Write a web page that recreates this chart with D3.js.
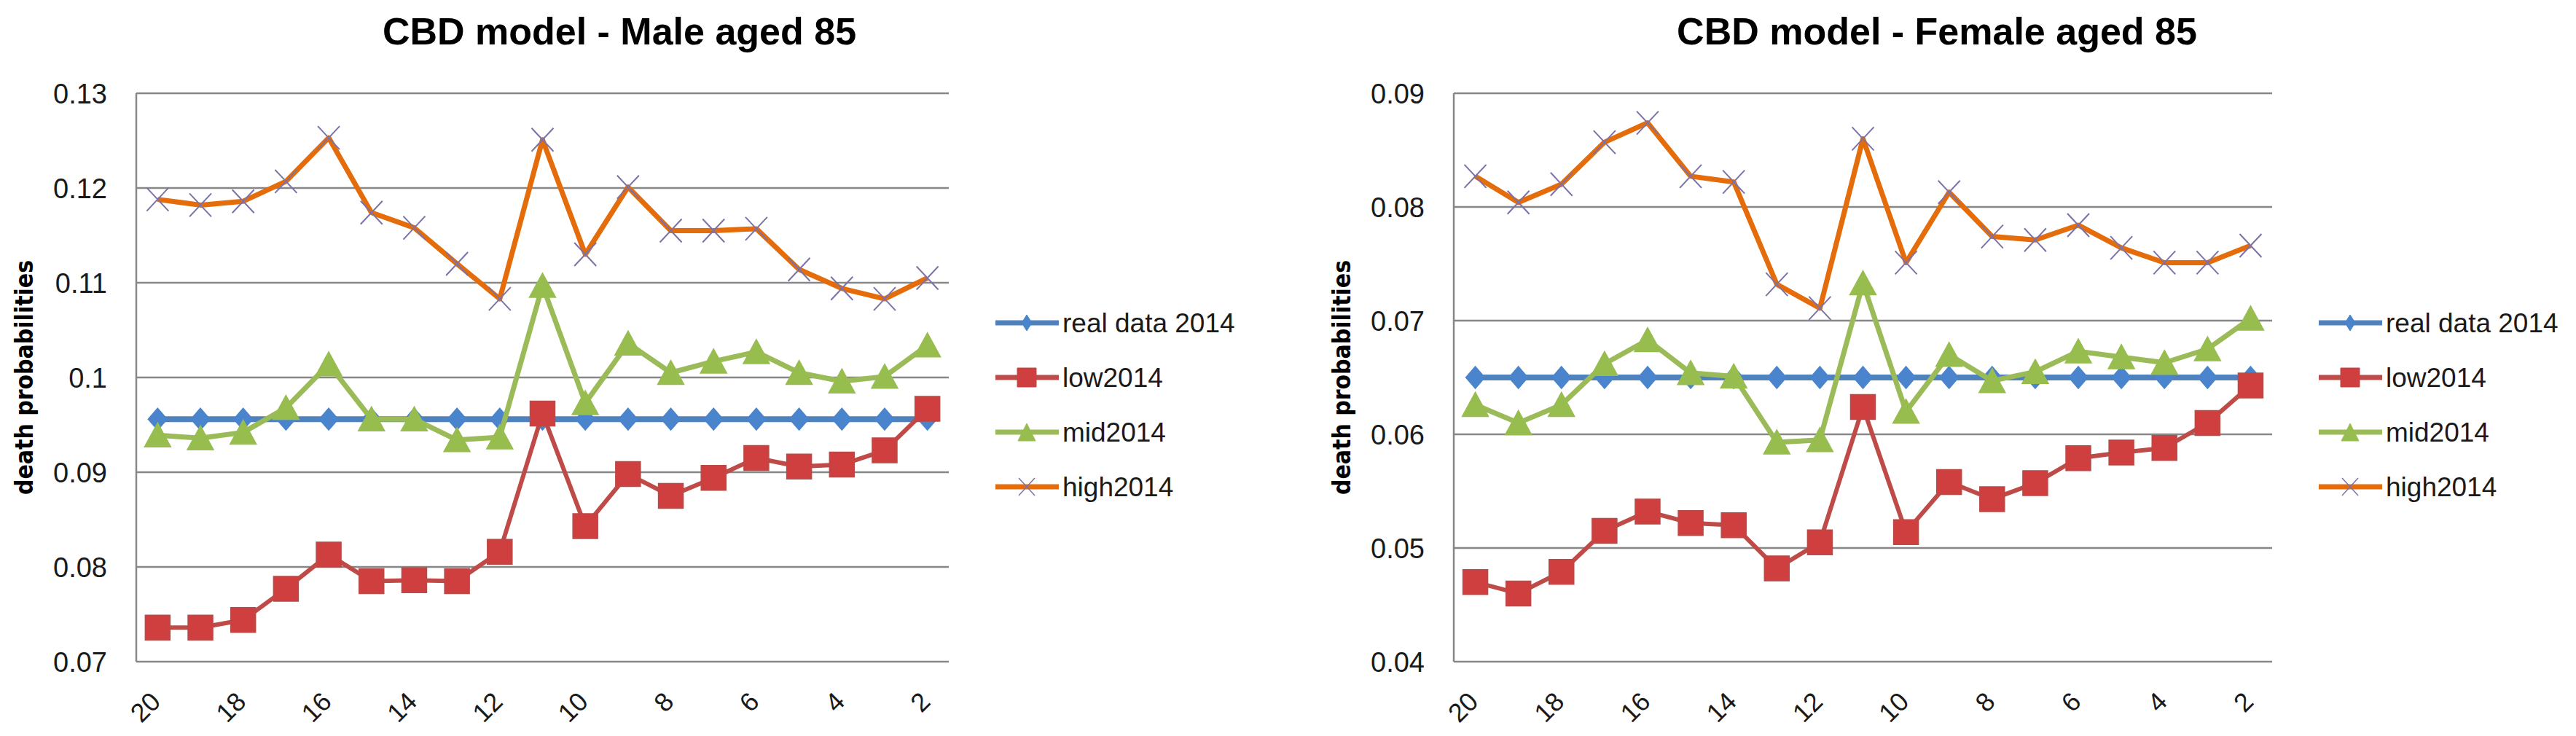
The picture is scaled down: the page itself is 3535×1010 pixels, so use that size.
<!DOCTYPE html>
<html>
<head>
<meta charset="utf-8">
<script src="https://cdn.jsdelivr.net/npm/d3@7"></script>
<style>
    body { margin: 0; background: #fff; }
    svg text { font-family: "Liberation Sans", Arial, sans-serif; fill: #1a1a1a; }
</style>
</head>
<body>
<div class="container"></div>
<script>
// forecast horizon (years before 2014)
const horizon = [20, 19, 18, 17, 16, 15, 14, 13, 12, 11, 10, 9, 8, 7, 6, 5, 4, 3, 2];
const seriesNames = ["real data 2014", "low2014", "mid2014", "high2014"];

const maleTicks = [0.07, 0.08, 0.09, 0.1, 0.11, 0.12, 0.13];
const maleReal = [0.0956, 0.0956, 0.0956, 0.0956, 0.0956, 0.0956, 0.0956, 0.0956, 0.0956, 0.0956,
    0.0956, 0.0956, 0.0956, 0.0956, 0.0956, 0.0956, 0.0956, 0.0956, 0.0956];
const maleLow = [0.0736, 0.0736, 0.0744, 0.0777, 0.0813, 0.0785, 0.0786, 0.0785, 0.0816, 0.0962,
    0.0843, 0.0898, 0.0875, 0.0894, 0.0915, 0.0906, 0.0908, 0.0923, 0.0967];
const maleMid = [0.0939, 0.0936, 0.0942, 0.0968, 0.1014, 0.0956, 0.0956, 0.0934, 0.0937, 0.1097,
    0.0973, 0.1036, 0.1005, 0.1017, 0.1027, 0.1005, 0.0996, 0.1001, 0.1034];
const maleHigh = [0.1188, 0.1182, 0.1186, 0.1207, 0.1253, 0.1174, 0.1158, 0.1120, 0.1083, 0.1251,
    0.1130, 0.1201, 0.1155, 0.1155, 0.1157, 0.1114, 0.1094, 0.1083, 0.1105];

const femaleTicks = [0.04, 0.05, 0.06, 0.07, 0.08, 0.09];
const femaleReal = [0.0650, 0.0650, 0.0650, 0.0650, 0.0650, 0.0650, 0.0650, 0.0650, 0.0650, 0.0650,
    0.0650, 0.0650, 0.0650, 0.0650, 0.0650, 0.0650, 0.0650, 0.0650, 0.0650];
const femaleLow = [0.0470, 0.0460, 0.0479, 0.0515, 0.0532, 0.0522, 0.0520, 0.0482, 0.0505, 0.0624,
    0.0514, 0.0558, 0.0543, 0.0557, 0.0579, 0.0584, 0.0588, 0.0610, 0.0643];
const femaleMid = [0.0626, 0.0610, 0.0626, 0.0662, 0.0683, 0.0654, 0.0651, 0.0593, 0.0595, 0.0733,
    0.0620, 0.0670, 0.0647, 0.0655, 0.0673, 0.0668, 0.0663, 0.0675, 0.0702];
const femaleHigh = [0.0827, 0.0804, 0.0820, 0.0857, 0.0874, 0.0827, 0.0822, 0.0732, 0.0711, 0.0860,
    0.0751, 0.0813, 0.0774, 0.0771, 0.0784, 0.0764, 0.0751, 0.0751, 0.0766];

let width = 3535,
    height = 1010;

let svg = d3.select(".container")
    .append("svg")
    .attr("width", width)
    .attr("height", height);

// marker shapes (plot size / legend size)
const styles = [
    { line: "#4F81BD", lw: 8, fill: "#4A84CC", stroke: "#4A84CC",
      mark: "M0,-15L13,0L0,15L-13,0Z", legend: "M0,-11L7,0L0,11L-7,0Z" },
    { line: "#BE4B48", lw: 6, fill: "#CF3F3F", stroke: "#B84A47",
      mark: "M-17,-17H17V17H-17Z", legend: "M-13,-13H13V13H-13Z" },
    { line: "#9BBB59", lw: 7, fill: "#97BD4F", stroke: "#97BD4F",
      mark: "M0,-17L18,16L-18,16Z", legend: "M0,-12L12,12L-12,12Z" },
    { line: "#E46C0A", lw: 7, fill: "none", stroke: "#7D72A8",
      mark: "M-15,-16L15,16M15,-16L-15,16", legend: "M-11,-12L11,12M11,-12L-11,12" }
];

const drawChart = (opts) => {
    let g = svg.append("g")
        .attr("transform", "translate(" + opts.left + ",0)");

    let plotLeft = 187,
        plotRight = 187 + opts.plotWidth,
        plotTop = 128,
        plotBottom = 908;

    let x = d3.scalePoint()
        .domain(horizon)
        .range([plotLeft, plotRight])
        .padding(0.5);

    let y = d3.scaleLinear()
        .domain(d3.extent(opts.ticks))
        .range([plotBottom, plotTop]);

    // title
    g.append("text")
        .attr("x", 850)
        .attr("y", 61)
        .attr("text-anchor", "middle")
        .style("font-size", "52px")
        .style("font-weight", "bold")
        .style("fill", "#000")
        .text(opts.title);

    // gridlines
    g.append("g")
        .selectAll("line")
        .data(opts.ticks)
        .enter()
        .append("line")
        .attr("x1", plotLeft)
        .attr("x2", plotRight)
        .attr("y1", function (d) { return y(d); })
        .attr("y2", function (d) { return y(d); })
        .attr("stroke", "#878787")
        .attr("stroke-width", 2.5);

    g.append("line")
        .attr("x1", plotLeft)
        .attr("x2", plotLeft)
        .attr("y1", plotTop)
        .attr("y2", plotBottom)
        .attr("stroke", "#878787")
        .attr("stroke-width", 2.5);

    // y tick labels
    g.append("g")
        .selectAll("text")
        .data(opts.ticks)
        .enter()
        .append("text")
        .attr("x", plotLeft - 40)
        .attr("y", function (d) { return y(d); })
        .attr("dy", "0.36em")
        .attr("text-anchor", "end")
        .style("font-size", "38px")
        .text(function (d) { return d3.format("")(d); });

    // x tick labels, every second category
    g.append("g")
        .selectAll("text")
        .data(horizon.filter(function (d, i) { return i % 2 == 0; }))
        .enter()
        .append("text")
        .attr("text-anchor", "end")
        .attr("transform", function (d) {
            return "translate(" + (x(d) + 6) + ",965) rotate(-45)";
        })
        .style("font-size", "36px")
        .text(function (d) { return d; });

    // y axis title
    g.append("text")
        .attr("transform", "translate(45," + ((plotTop + plotBottom) / 2) + ") rotate(-90)")
        .attr("text-anchor", "middle")
        .attr("textLength", 322)
        .attr("lengthAdjust", "spacingAndGlyphs")
        .style("font-family", "'DejaVu Sans', Verdana, sans-serif")
        .style("font-size", "34px")
        .style("font-weight", "bold")
        .style("fill", "#000")
        .text("death probabilities");

    let line = d3.line()
        .x(function (d, i) { return x(horizon[i]); })
        .y(function (d) { return y(d); });

    opts.series.forEach(function (values, s) {
        let st = styles[s];
        g.append("path")
            .datum(values)
            .attr("d", line)
            .attr("fill", "none")
            .attr("stroke", st.line)
            .attr("stroke-width", st.lw)
            .attr("stroke-linejoin", "round");

        g.append("g")
            .selectAll("path")
            .data(values)
            .enter()
            .append("path")
            .attr("transform", function (d, i) {
                return "translate(" + x(horizon[i]) + "," + y(d) + ")";
            })
            .attr("d", st.mark)
            .attr("fill", st.fill)
            .attr("stroke", st.stroke)
            .attr("stroke-width", s == 3 ? 2 : 1.5);
    });

    // legend
    let legendX = plotRight + 64;
    let legend = g.append("g")
        .selectAll("g")
        .data(seriesNames)
        .enter()
        .append("g")
        .attr("transform", function (d, i) {
            return "translate(" + legendX + "," + (443 + i * 75) + ")";
        });

    legend.append("line")
        .attr("x1", 0)
        .attr("x2", 87)
        .attr("stroke", function (d, i) { return styles[i].line; })
        .attr("stroke-width", 7);

    legend.append("path")
        .attr("transform", "translate(43,0)")
        .attr("d", function (d, i) { return styles[i].legend; })
        .attr("fill", function (d, i) { return styles[i].fill; })
        .attr("stroke", function (d, i) { return styles[i].stroke; })
        .attr("stroke-width", function (d, i) { return i == 3 ? 1.5 : 1; });

    legend.append("text")
        .attr("x", 92)
        .attr("dy", "0.36em")
        .style("font-size", "37px")
        .text(function (d) { return d; });
}

drawChart({
    left: 0,
    plotWidth: 1115,
    title: "CBD model - Male aged 85",
    ticks: maleTicks,
    series: [maleReal, maleLow, maleMid, maleHigh]
});

drawChart({
    left: 1808,
    plotWidth: 1123,
    title: "CBD model - Female aged 85",
    ticks: femaleTicks,
    series: [femaleReal, femaleLow, femaleMid, femaleHigh]
});
</script>
</body>
</html>
